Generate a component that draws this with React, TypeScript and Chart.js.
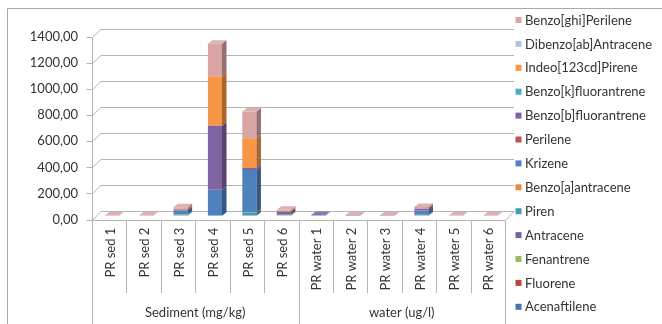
import React, { useEffect, useRef } from 'react';
import { Chart, registerables } from 'chart.js';

Chart.register(...registerables);

// ---- data -----------------------------------------------------------------
const categories = [
  'PR sed 1', 'PR sed 2', 'PR sed 3', 'PR sed 4', 'PR sed 5', 'PR sed 6',
  'PR water 1', 'PR water 2', 'PR water 3', 'PR water 4', 'PR water 5', 'PR water 6',
];

const groupLabels = ['Sediment (mg/kg)', 'water (ug/l)'];
const groupSizes = [6, 6];

const yTicks = [0, 200, 400, 600, 800, 1000, 1200, 1400];

const acenaftilene = [0, 0, 1, 0, 0, 0.5, 0.5, 0, 0, 1, 0, 0];
const fluorene = [0, 0, 0.5, 0, 0, 0, 0, 0, 0, 0.5, 0, 0];
const fenantrene = [0, 0, 1, 0, 0, 0.5, 0, 0, 0, 1, 0, 0];
const antracene = [0, 0, 0.5, 0, 0, 0.5, 0.5, 0.5, 0.5, 1, 0, 0];
const piren = [0.5, 0.5, 6, 0, 22, 2, 0, 0, 0, 3, 0, 0];
const benzoAAntracene = [0, 0, 2, 0, 3, 1, 0, 0, 0, 1, 0, 0];
const krizene = [0, 0, 28, 200, 325, 6, 2, 1, 0, 33, 0, 0];
const perilene = [0, 0, 0, 0, 0, 0, 0, 0, 0, 0, 0, 0];
const benzoBFluorantrene = [0, 0, 8, 490, 15, 20, 2, 3, 2, 12, 0, 0];
const benzoKFluorantrene = [0, 0, 1, 0, 0, 1, 0, 0, 0, 0, 0, 0];
const indeoPirene = [0, 0, 5, 380, 230, 6, 0, 0, 0, 0, 0, 0];
const dibenzoAntracene = [0, 0, 0, 0, 0, 0, 0, 0, 0, 0, 0, 0];
const benzoGhiPerilene = [1.5, 1.5, 12, 250, 205, 8, 0, 1.5, 1.5, 15, 1.5, 1.5];

const seriesNames = [
  'Acenaftilene', 'Fluorene', 'Fenantrene', 'Antracene', 'Piren',
  'Benzo[a]antracene', 'Krizene', 'Perilene', 'Benzo[b]fluorantrene',
  'Benzo[k]fluorantrene', 'Indeo[123cd]Pirene', 'Dibenzo[ab]Antracene',
  'Benzo[ghi]Perilene',
];
const seriesValues = [
  acenaftilene, fluorene, fenantrene, antracene, piren, benzoAAntracene,
  krizene, perilene, benzoBFluorantrene, benzoKFluorantrene, indeoPirene,
  dibenzoAntracene, benzoGhiPerilene,
];
const seriesColors = [
  '#4672AA', '#B9463F', '#9BBB59', '#7B5E9E', '#3F9DB4', '#E98C42',
  '#4F81BD', '#C0504D', '#8064A2', '#4BACC6', '#F79646', '#B4C5E4',
  '#D9A5A4',
];

// ---- styling --------------------------------------------------------------
const W = 662;
const H = 324;
const FONT_FAMILY = 'Lato, "Liberation Sans", sans-serif';
const TEXT = '#333333';
const LINE = '#B4B4B4';
const FRAME = '#A8A8A8';

// offsets of the front and back planes relative to the plane the bars sit in
const FRONT = { dx: -2.5, dy: 3.8 };
const BACK = { dx: 6.5, dy: -4.7 };
// depth of each column
const BAR_DEPTH = { dx: 4.5, dy: -3.5 };

const shade = (hex: string, f: number) => {
  const n = parseInt(hex.slice(1), 16);
  let r = (n >> 16) & 255, g = (n >> 8) & 255, b = n & 255;
  if (f <= 1) {
    r *= f; g *= f; b *= f;
  } else {
    const t = f - 1;
    r += (255 - r) * t; g += (255 - g) * t; b += (255 - b) * t;
  }
  return `rgb(${Math.round(r)},${Math.round(g)},${Math.round(b)})`;
};

const fmt = (v: number) => v.toFixed(2).replace('.', ',');

const px = (v: number) => Math.round(v) + 0.5;

const line = (ctx: CanvasRenderingContext2D, pts: number[][]) => {
  ctx.beginPath();
  ctx.moveTo(pts[0][0], pts[0][1]);
  for (let i = 1; i < pts.length; i++) ctx.lineTo(pts[i][0], pts[i][1]);
  ctx.stroke();
};

const poly = (ctx: CanvasRenderingContext2D, pts: number[][], fill: string) => {
  ctx.beginPath();
  ctx.moveTo(pts[0][0], pts[0][1]);
  for (let i = 1; i < pts.length; i++) ctx.lineTo(pts[i][0], pts[i][1]);
  ctx.closePath();
  ctx.fillStyle = fill;
  ctx.fill();
};

// walls, floor, frame, multi-level axis, legend and column depth
const threeDPlugin = {
  id: 'threeD',
  beforeDatasetsDraw(chart: any) {
    const { ctx, chartArea: a, scales } = chart;
    const y = scales.y;
    ctx.save();
    ctx.lineWidth = 1;

    // outer frame
    ctx.strokeStyle = FRAME;
    line(ctx, [[7.5, H], [7.5, 8.5], [W, 8.5]]);

    ctx.strokeStyle = LINE;
    const fx = px(a.left + FRONT.dx);
    const bx = a.left + BACK.dx;
    const bxr = a.right + BACK.dx;
    yTicks.forEach((v) => {
      const yb = y.getPixelForValue(v);
      const yf = px(yb + FRONT.dy);
      const yk = px(yb + BACK.dy);
      line(ctx, [[fx - 6, yf], [fx, yf], [bx, yk], [bxr, yk]]);
    });
    // value axis line
    line(ctx, [
      [fx, px(y.getPixelForValue(yTicks[yTicks.length - 1]) + FRONT.dy)],
      [fx, px(y.getPixelForValue(0) + FRONT.dy)],
    ]);
    // floor front and right edges
    const y0f = px(y.getPixelForValue(0) + FRONT.dy);
    const y0b = px(y.getPixelForValue(0) + BACK.dy);
    line(ctx, [[fx, y0f], [px(a.right + FRONT.dx), y0f], [bxr, y0b]]);
    ctx.restore();
  },

  afterDatasetsDraw(chart: any) {
    const { ctx } = chart;
    ctx.save();
    const metas = chart.data.datasets.map((_: any, i: number) => chart.getDatasetMeta(i));
    categories.forEach((_, j) => {
      let topIdx = -1;
      seriesValues.forEach((vals, i) => {
        if (vals[j] > 0) topIdx = i;
      });
      seriesValues.forEach((vals, i) => {
        if (!(vals[j] > 0)) return;
        const el = metas[i].data[j];
        const { x, y, base, width } = el.getProps(['x', 'y', 'base', 'width'], true);
        const l = x - width / 2;
        const r = x + width / 2;
        const c = seriesColors[i];
        poly(ctx, [
          [r, y], [r + BAR_DEPTH.dx, y + BAR_DEPTH.dy],
          [r + BAR_DEPTH.dx, base + BAR_DEPTH.dy], [r, base],
        ], shade(c, 0.68));
        if (i === topIdx) {
          poly(ctx, [
            [l, y], [r, y], [r + BAR_DEPTH.dx, y + BAR_DEPTH.dy],
            [l + BAR_DEPTH.dx, y + BAR_DEPTH.dy],
          ], shade(c, 1.12));
        }
      });
    });
    ctx.restore();
  },

  afterDraw(chart: any) {
    const { ctx, chartArea: a, scales } = chart;
    const x = scales.x;
    const y = scales.y;
    ctx.save();
    ctx.lineWidth = 1;
    ctx.strokeStyle = LINE;

    // category boundaries of the multi-level axis
    const y0f = px(y.getPixelForValue(0) + FRONT.dy);
    const n = categories.length;
    const boundary = (k: number) => {
      if (k === 0) return a.left + FRONT.dx;
      if (k === n) return a.right + FRONT.dx;
      return (x.getPixelForValue(k - 1) + x.getPixelForValue(k)) / 2 + FRONT.dx;
    };
    const groupEdges = [0];
    groupSizes.forEach((s) => groupEdges.push(groupEdges[groupEdges.length - 1] + s));
    for (let k = 0; k <= n; k++) {
      const bxp = px(boundary(k));
      const full = groupEdges.includes(k);
      line(ctx, [[bxp, y0f], [bxp, full ? H : 293]]);
    }

    // group labels
    ctx.fillStyle = TEXT;
    ctx.font = `13px ${FONT_FAMILY}`;
    ctx.textAlign = 'center';
    ctx.textBaseline = 'middle';
    groupLabels.forEach((g, gi) => {
      const cx = (boundary(groupEdges[gi]) + boundary(groupEdges[gi + 1])) / 2;
      ctx.fillText(g, cx, 313);
    });

    // legend, last series first
    ctx.textAlign = 'left';
    const ds = chart.data.datasets;
    for (let k = 0; k < ds.length; k++) {
      const i = ds.length - 1 - k;
      const yc = 20 + k * 23.9;
      ctx.fillStyle = ds[i].backgroundColor;
      ctx.fillRect(515.5, yc - 3, 6, 6);
      ctx.fillStyle = TEXT;
      ctx.fillText(ds[i].label, 525, yc + 0.5);
    }
    ctx.restore();
  },
};

export default function App() {
  const canvasRef = useRef<HTMLCanvasElement | null>(null);

  useEffect(() => {
    if (!canvasRef.current) return;
    const font = { family: FONT_FAMILY, size: 13 };
    const chart = new Chart(canvasRef.current, {
      type: 'bar',
      data: {
        labels: categories,
        datasets: seriesNames.map((name, i) => ({
          label: name,
          data: seriesValues[i],
          backgroundColor: seriesColors[i],
          borderWidth: 0,
          barPercentage: 0.41,
          categoryPercentage: 1,
        })),
      },
      options: {
        responsive: false,
        animation: false,
        devicePixelRatio: 1,
        layout: { padding: { top: 33.2, right: W - 507.5, left: 0, bottom: 0 } },
        plugins: {
          legend: { display: false },
          title: { display: false },
          tooltip: { enabled: false },
        },
        scales: {
          x: {
            stacked: true,
            grid: { display: false, drawTicks: false },
            border: { display: false },
            ticks: {
              autoSkip: false,
              minRotation: 90,
              maxRotation: 90,
              padding: 12,
              labelOffset: -1,
              color: TEXT,
              font,
            },
            afterFit: (s: any) => { s.height = H - 215.7; },
          },
          y: {
            stacked: true,
            min: 0,
            max: 1400,
            grid: { display: false, drawTicks: false },
            border: { display: false },
            ticks: {
              stepSize: 200,
              padding: 16.5,
              labelOffset: 3.8,
              color: TEXT,
              font,
              callback: (v: any) => fmt(Number(v)),
            },
            afterFit: (s: any) => { s.width = 94.5; },
          },
        },
      },
      plugins: [threeDPlugin],
    });
    return () => chart.destroy();
  }, []);

  return (
    <div style={{ position: 'fixed', left: 0, top: 0, width: W, height: H, background: '#fff' }}>
      <canvas ref={canvasRef} width={W} height={H} style={{ display: 'block', width: W, height: H }} />
    </div>
  );
}
